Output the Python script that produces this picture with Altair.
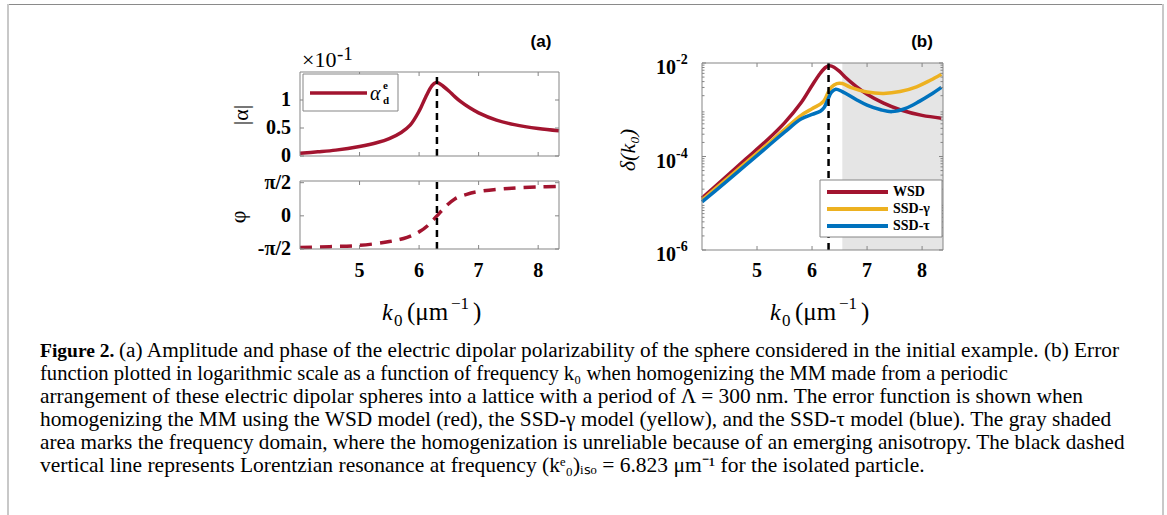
import altair as alt
import pandas as pd

# ---------------- data ----------------
# (a) |alpha| in units of 1e-1
k_amp = [4.0, 4.3, 4.6, 5.0, 5.3, 5.5, 5.7, 5.85, 6.0, 6.11, 6.22, 6.28, 6.33, 6.4, 6.5, 6.6, 6.7, 6.85, 7.0, 7.3, 7.6, 8.0, 8.35]
amp = [0.05, 0.075, 0.105, 0.17, 0.24, 0.31, 0.42, 0.55, 0.80, 1.05, 1.26, 1.31, 1.30, 1.25, 1.16, 1.06, 0.97, 0.86, 0.77, 0.64, 0.56, 0.49, 0.45]

# (a) phase in rad
k_phase = [4.0, 4.5, 5.0, 5.5, 5.8, 6.0, 6.15, 6.3, 6.45, 6.6, 6.8, 7.0, 7.5, 8.0, 8.35]
phase = [-1.50, -1.46, -1.40, -1.22, -1.02, -0.76, -0.45, 0.0, 0.45, 0.80, 1.02, 1.15, 1.30, 1.37, 1.39]

# (b) error function for the three models
k_wsd = [4.0, 4.4, 4.8, 5.2, 5.5, 5.8, 6.0, 6.15, 6.25, 6.32, 6.4, 6.5, 6.6, 6.8, 7.0, 7.3, 7.6, 8.0, 8.35]
d_wsd = [1.29e-5, 3.39e-5, 8.91e-5, 2.34e-4, 5.25e-4, 1.41e-3, 3.31e-3, 6.03e-3, 8.13e-3, 8.71e-3,
         8.13e-3, 6.61e-3, 5.01e-3, 3.16e-3, 2.14e-3, 1.38e-3, 1.00e-3, 7.59e-4, 6.61e-4]

k_gam = [4.0, 4.4, 4.8, 5.2, 5.5, 5.8, 6.0, 6.15, 6.22, 6.28, 6.35, 6.45, 6.55, 6.7, 7.0, 7.3, 7.6, 7.9, 8.15, 8.35]
d_gam = [1.17e-5, 2.95e-5, 7.41e-5, 1.86e-4, 3.80e-4, 7.59e-4, 1.05e-3, 1.32e-3, 1.58e-3, 2.19e-3,
         3.02e-3, 3.63e-3, 3.63e-3, 3.02e-3, 2.40e-3, 2.24e-3, 2.45e-3, 3.09e-3, 4.27e-3, 5.75e-3]

k_tau = [4.0, 4.4, 4.8, 5.2, 5.5, 5.8, 6.0, 6.15, 6.22, 6.28, 6.35, 6.43, 6.55, 6.8, 7.0, 7.25, 7.45, 7.7, 7.95, 8.15, 8.35]
d_tau = [1.07e-5, 2.63e-5, 6.61e-5, 1.66e-4, 3.31e-4, 6.31e-4, 7.94e-4, 9.33e-4, 1.12e-3, 1.58e-3,
         2.34e-3, 2.75e-3, 2.45e-3, 1.66e-3, 1.26e-3, 1.00e-3, 9.12e-4, 1.07e-3, 1.51e-3, 2.09e-3, 3.02e-3]

k_res = 6.3            # resonance marker
k_shade = [6.55, 8.38]  # unreliable region

x_ticks = [5, 6, 7, 8]
amp_ticks = [0, 0.5, 1]
amp_labels = ["0", "0.5", "1"]
phase_ticks = [-1.5708, 0, 1.5708]
phase_labels = ["-\u03c0/2", "0", "\u03c0/2"]
log_ticks = [1e-6, 1e-4, 1e-2]
log_exps = ["-6", "-4", "-2"]

series_names = ["WSD", "SSD-\u03b3", "SSD-\u03c4"]
RED, YEL, BLU = "#A2142F", "#EDB120", "#0072BD"
BOX = "#858585"
SERIF, SANS = "Liberation Serif", "Liberation Sans"

# caption lines with their font sizes
caption = [
    ("function plotted in logarithmic scale as a function of frequency k\u2080 when homogenizing the MM made from a periodic", 20.6),
    ("arrangement of these electric dipolar spheres into a lattice with a period of \u039b = 300 nm. The error function is shown when", 21.4),
    ("homogenizing the MM using the WSD model (red), the SSD-\u03b3 model (yellow), and the SSD-\u03c4 model (blue). The gray shaded", 21.35),
    ("area marks the frequency domain, where the homogenization is unreliable because of an emerging anisotropy. The black dashed", 21.2),
    ("vertical line represents Lorentzian resonance at frequency (k\u1d49\u2080)\u1d62\u209b\u2092 = 6.823 \u03bcm\u207b\u00b9 for the isolated particle.", 21.5),
]

# ---------------- scales (pixel ranges) ----------------
def sc(domain, rng, **kw):
    return alt.Scale(domain=domain, range=rng, nice=False, zero=False, **kw)

XA = dict(domain=[4.0, 8.35], rng=[300, 559])
YAT = dict(domain=[0, 1.5], rng=[156, 72])
YAB = dict(domain=[-1.5708, 1.65], rng=[249, 181])
XB = dict(domain=[4.0, 8.38], rng=[702, 943])
YB = dict(domain=[1e-6, 1e-2], rng=[250, 63], type="log")


def X(field, s):
    return alt.X(field, scale=sc(s["domain"], s["rng"], **({"type": s["type"]} if "type" in s else {})), axis=None)


def Y(field, s):
    return alt.Y(field, scale=sc(s["domain"], s["rng"], **({"type": s["type"]} if "type" in s else {})), axis=None)


def txt(s, x, y, size, weight="normal", style="normal", font=SERIF, align="left",
        baseline="middle", angle=0, color="black"):
    return alt.Chart(pd.DataFrame({"t": [s]})).mark_text(
        font=font, fontSize=size, fontWeight=weight, fontStyle=style, align=align,
        baseline=baseline, angle=angle, color=color
    ).encode(x=alt.value(x), y=alt.value(y), text="t:N")


def frame(xs, ys):
    df = pd.DataFrame({"x0": [xs["domain"][0]], "x1": [xs["domain"][1]],
                       "y0": [ys["domain"][0]], "y1": [ys["domain"][1]]})
    return alt.Chart(df).mark_rect(fillOpacity=0, stroke=BOX, strokeWidth=1).encode(
        x=X("x0:Q", xs), x2="x1:Q", y=Y("y0:Q", ys), y2="y1:Q")


def ticks(xs, ys, xt, yt, size=4, minor=None):
    out = []
    l, r = xs["rng"]
    b, t = ys["rng"]
    dfx = pd.DataFrame({"v": xt})
    out.append(alt.Chart(dfx).mark_rule(color=BOX).encode(x=X("v:Q", xs), y=alt.value(b), y2=alt.value(b - size)))
    out.append(alt.Chart(dfx).mark_rule(color=BOX).encode(x=X("v:Q", xs), y=alt.value(t), y2=alt.value(t + size)))
    dfy = pd.DataFrame({"v": yt})
    out.append(alt.Chart(dfy).mark_rule(color=BOX).encode(y=Y("v:Q", ys), x=alt.value(l), x2=alt.value(l + size)))
    out.append(alt.Chart(dfy).mark_rule(color=BOX).encode(y=Y("v:Q", ys), x=alt.value(r), x2=alt.value(r - size)))
    if minor:
        dfm = pd.DataFrame({"v": minor})
        out.append(alt.Chart(dfm).mark_rule(color=BOX).encode(y=Y("v:Q", ys), x=alt.value(l), x2=alt.value(l + 2.5)))
        out.append(alt.Chart(dfm).mark_rule(color=BOX).encode(y=Y("v:Q", ys), x=alt.value(r), x2=alt.value(r - 2.5)))
    return out


def xlabels(xs):
    df = pd.DataFrame({"v": x_ticks, "t": [str(v) for v in x_ticks]})
    return alt.Chart(df).mark_text(font=SERIF, fontSize=20, fontWeight="bold", baseline="middle").encode(
        x=X("v:Q", xs), y=alt.value(271), text="t:N")


def xtitle(x0):
    return [
        txt("k", x0, 320, 24, style="italic", baseline="alphabetic"),
        txt("0", x0 + 12, 326, 17, baseline="alphabetic"),
        txt("(\u03bcm", x0 + 25, 320, 25, baseline="alphabetic"),
        txt("\u22121", x0 + 69, 309, 17, baseline="alphabetic"),
        txt(")", x0 + 91, 320, 25, baseline="alphabetic"),
    ]


layers = []

# ---- outer frame of the figure ----
layers.append(alt.Chart(pd.DataFrame({"a": [0]})).mark_rule(color="#8a8a8a", strokeWidth=1).encode(
    x=alt.value(7), x2=alt.value(1163), y=alt.value(4.5)))
layers.append(alt.Chart(pd.DataFrame({"a": [0]})).mark_rule(color="#c8c8c8", strokeWidth=2).encode(
    x=alt.value(8), y=alt.value(4), y2=alt.value(515)))
layers.append(alt.Chart(pd.DataFrame({"a": [0]})).mark_rule(color="#c8c8c8", strokeWidth=2).encode(
    x=alt.value(1163), y=alt.value(4), y2=alt.value(515)))

# ---- (a) amplitude ----
df_amp = pd.DataFrame({"k": k_amp, "v": amp})
layers.append(alt.Chart(df_amp).mark_line(color=RED, strokeWidth=3.5, interpolate="catmull-rom").encode(
    x=X("k:Q", XA), y=Y("v:Q", YAT)))
layers.append(alt.Chart(pd.DataFrame({"k": [k_res], "y0": [0], "y1": [1.5]})).mark_rule(
    color="black", strokeWidth=2.5, strokeDash=[7, 5]).encode(x=X("k:Q", XA), y=Y("y0:Q", YAT), y2="y1:Q"))
layers.append(frame(XA, YAT))
layers += ticks(XA, YAT, x_ticks, amp_ticks)
layers.append(alt.Chart(pd.DataFrame({"v": amp_ticks, "t": amp_labels})).mark_text(
    font=SERIF, fontSize=20, fontWeight="bold", align="right", baseline="middle").encode(
    y=Y("v:Q", YAT), x=alt.value(291), text="t:N"))
layers.append(txt("\u00d710", 302, 60, 22))
layers.append(txt("-1", 337, 54, 19))
layers.append(txt("|\u03b1|", 241, 115, 22, angle=270, align="center"))
# legend
layers.append(alt.Chart(pd.DataFrame({"a": [0]})).mark_rect(fill="white", stroke=BOX, strokeWidth=1).encode(
    x=alt.value(303), x2=alt.value(398), y=alt.value(74), y2=alt.value(111)))
layers.append(alt.Chart(pd.DataFrame({"a": [0]})).mark_rule(color=RED, strokeWidth=3.5).encode(
    x=alt.value(310), x2=alt.value(367), y=alt.value(93)))
layers.append(txt("\u03b1", 370, 94, 20, style="italic"))
layers.append(txt("e", 383, 86, 11, weight="bold"))
layers.append(txt("d", 383, 101, 11, weight="bold"))

# ---- (a) phase ----
df_ph = pd.DataFrame({"k": k_phase, "v": phase})
layers.append(alt.Chart(df_ph).mark_line(color=RED, strokeWidth=3.5, strokeDash=[12, 8], interpolate="catmull-rom").encode(
    x=X("k:Q", XA), y=Y("v:Q", YAB)))
layers.append(alt.Chart(pd.DataFrame({"k": [k_res], "y0": [-1.5708], "y1": [1.65]})).mark_rule(
    color="black", strokeWidth=2.5, strokeDash=[7, 5]).encode(x=X("k:Q", XA), y=Y("y0:Q", YAB), y2="y1:Q"))
layers.append(frame(XA, YAB))
layers += ticks(XA, YAB, x_ticks, phase_ticks)
layers.append(alt.Chart(pd.DataFrame({"v": phase_ticks, "t": phase_labels})).mark_text(
    font=SERIF, fontSize=20, fontWeight="bold", align="right", baseline="middle").encode(
    y=Y("v:Q", YAB), x=alt.value(291), text="t:N"))
layers.append(txt("\u03c6", 238, 217, 22, angle=270, align="center"))
layers.append(xlabels(XA))
layers += xtitle(382)
layers.append(txt("(a)", 541, 42, 17, weight="bold", font=SANS, align="center"))

# ---- (b) error function ----
layers.append(alt.Chart(pd.DataFrame({"k0": [k_shade[0]], "k1": [k_shade[1]], "y0": [1e-6], "y1": [1e-2]})).mark_rect(
    color="#e5e5e5").encode(x=X("k0:Q", XB), x2="k1:Q", y=Y("y0:Q", YB), y2="y1:Q"))
for kk, dd, col in [(k_wsd, d_wsd, RED), (k_gam, d_gam, YEL), (k_tau, d_tau, BLU)]:
    layers.append(alt.Chart(pd.DataFrame({"k": kk, "d": dd})).mark_line(
        color=col, strokeWidth=3.5, interpolate="catmull-rom").encode(x=X("k:Q", XB), y=Y("d:Q", YB)))
layers.append(alt.Chart(pd.DataFrame({"k": [k_res], "y0": [1e-6], "y1": [1e-2]})).mark_rule(
    color="black", strokeWidth=2.5, strokeDash=[7, 5]).encode(x=X("k:Q", XB), y=Y("y0:Q", YB), y2="y1:Q"))
layers.append(frame(XB, YB))
minor = [m * 10.0 ** e for e in (-6, -5, -4, -3) for m in range(2, 10)]
layers += ticks(XB, YB, x_ticks, log_ticks, minor=minor)
layers.append(alt.Chart(pd.DataFrame({"v": log_ticks})).mark_text(
    font=SERIF, fontSize=20, fontWeight="bold", align="right", baseline="middle", text="10").encode(
    y=Y("v:Q", YB), x=alt.value(676), yOffset=alt.value(5)))
layers.append(alt.Chart(pd.DataFrame({"v": log_ticks, "t": log_exps})).mark_text(
    font=SERIF, fontSize=14, fontWeight="bold", align="left", baseline="middle").encode(
    y=Y("v:Q", YB), x=alt.value(676), yOffset=alt.value(-3), text="t:N"))
layers.append(txt("\u03b4(k\u2080)", 628, 150, 22, style="italic", angle=270, align="center"))
layers.append(xlabels(XB))
layers += xtitle(770)
layers.append(txt("(b)", 922, 42, 17, weight="bold", font=SANS, align="center"))
# legend
layers.append(alt.Chart(pd.DataFrame({"a": [0]})).mark_rect(fill="white", stroke=BOX, strokeWidth=1).encode(
    x=alt.value(820), x2=alt.value(942), y=alt.value(180), y2=alt.value(237)))
for i, (name, col) in enumerate(zip(series_names, [RED, YEL, BLU])):
    yy = 192 + 17 * i
    layers.append(alt.Chart(pd.DataFrame({"a": [0]})).mark_rule(color=col, strokeWidth=4).encode(
        x=alt.value(827), x2=alt.value(888), y=alt.value(yy)))
    layers.append(txt(name, 893, yy, 14, weight="bold"))

# ---- caption ----
layers.append(txt("Figure 2.", 40, 357, 19.5, weight="bold", baseline="alphabetic"))
layers.append(txt("(a) Amplitude and phase of the electric dipolar polarizability of the sphere considered in the initial example. (b) Error",
                  119, 357, 21.3, baseline="alphabetic"))
for i, (line, size) in enumerate(caption):
    layers.append(txt(line, 40, 380 + 23 * i, size, baseline="alphabetic"))

chart = alt.layer(*layers).resolve_scale(x="independent", y="independent").properties(
    width=1167, height=515, autosize=alt.AutoSizeParams(type="none"), padding=0, background="white"
).configure_view(stroke=None)

chart.save("out.html", embed_options={"renderer": "svg", "actions": False})
